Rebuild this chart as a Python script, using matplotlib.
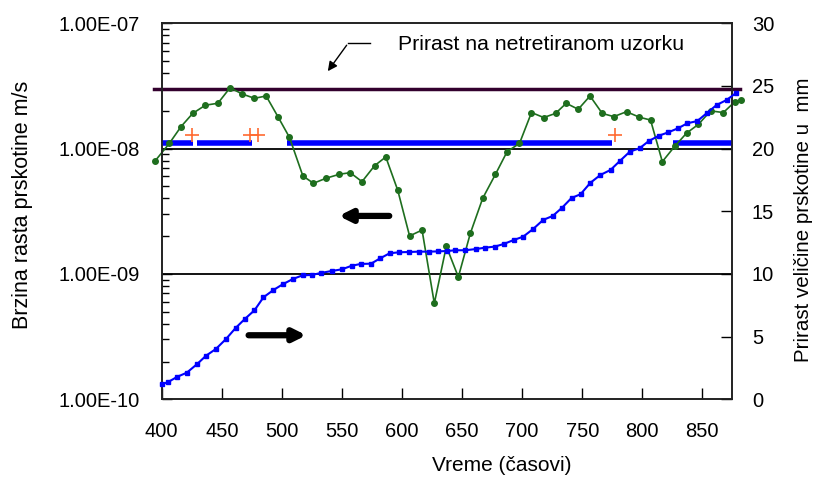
import matplotlib
matplotlib.use("Agg")
import matplotlib.pyplot as plt
from matplotlib.ticker import FixedLocator, NullFormatter, LogLocator

plt.rcParams['font.family'] = ['Liberation Sans', 'DejaVu Sans']

# ---- data ----
rate_x = [394.4, 406.3, 416.1, 425.8, 436.3, 446.7, 456.9, 466.9, 477.2, 486.9,
          496.7, 506.3, 517.5, 526.3, 536.7, 547.8, 556.9, 566.7, 577.2, 586.5,
          596.5, 606.3, 616.7, 626.9, 636.9, 646.9, 656.9, 667.2, 677.8, 687.5,
          697.8, 707.8, 718.0, 727.8, 736.7, 746.7, 756.5, 766.7, 776.3, 786.9,
          797.7, 806.9, 816.7, 826.9, 836.9, 846.7, 856.9, 867.5, 877.2, 881.9]
rate_y = [7.96e-9, 1.10e-8, 1.50e-8, 1.91e-8, 2.22e-8, 2.30e-8, 3.06e-8, 2.73e-8, 2.52e-8, 2.63e-8,
          1.80e-8, 1.23e-8, 6.05e-9, 5.29e-9, 5.80e-9, 6.24e-9, 6.43e-9, 5.45e-9, 7.31e-9, 8.58e-9,
          4.64e-9, 2.01e-9, 2.24e-9, 5.83e-10, 1.66e-9, 9.46e-10, 2.11e-9, 4.02e-9, 6.24e-9, 9.46e-9,
          1.10e-8, 1.94e-8, 1.77e-8, 1.91e-8, 2.30e-8, 2.06e-8, 2.63e-8, 1.91e-8, 1.80e-8, 1.97e-8,
          1.78e-8, 1.69e-8, 7.87e-9, 1.04e-8, 1.33e-8, 1.56e-8, 2.00e-8, 1.94e-8, 2.37e-8, 2.45e-8]

size_x = [400.0, 405.0, 413.0, 420.8, 429.2, 436.9, 445.0, 453.3, 461.7, 469.4,
          477.2, 484.7, 493.0, 500.8, 509.2, 517.2, 525.0, 532.5, 541.7, 550.0,
          558.3, 565.8, 574.2, 581.9, 589.7, 597.8, 605.5, 613.8, 622.2, 630.0,
          637.5, 644.4, 652.8, 661.7, 669.4, 677.2, 684.7, 693.0, 700.8, 709.2,
          717.5, 725.5, 733.3, 741.1, 748.6, 756.9, 765.2, 773.6, 781.3, 789.7,
          797.8, 805.5, 813.8, 821.7, 829.7, 837.5, 845.8, 853.6, 861.9, 870.2, 877.8]
size_y = [1.20, 1.36, 1.80, 2.12, 2.79, 3.48, 4.01, 4.79, 5.71, 6.43,
          7.10, 8.14, 8.72, 9.18, 9.60, 9.89, 9.92, 10.08, 10.24, 10.37,
          10.66, 10.80, 10.82, 11.25, 11.65, 11.73, 11.75, 11.78, 11.78, 11.80,
          11.83, 11.89, 11.89, 11.99, 12.10, 12.18, 12.39, 12.71, 12.97, 13.59,
          14.31, 14.63, 15.29, 16.06, 16.36, 17.28, 17.90, 18.30, 19.01, 19.76,
          20.03, 20.61, 21.03, 21.30, 21.62, 22.02, 22.20, 22.82, 23.48, 23.88, 24.42]

# constant-level indicator segments (start, end) at rate level
band_level = 1.11e-8
band_start = [400, 429, 504, 826]
band_end = [426, 475, 775, 875]

plus_x = [425, 473.6, 480.5, 777.7]
plus_y = [1.29e-8, 1.29e-8, 1.29e-8, 1.29e-8]

untreated_level = 3.0e-8
grid_levels = [1e-9, 1e-8]

xticks = [400, 450, 500, 550, 600, 650, 700, 750, 800, 850]
left_ticks = [1e-10, 1e-9, 1e-8, 1e-7]
left_labels = ['1.00E-10', '1.00E-09', '1.00E-08', '1.00E-07']
right_ticks = [0, 5, 10, 15, 20, 25, 30]

# ---- figure ----
fig = plt.figure(figsize=(8.14, 4.79), dpi=100)
ax = fig.add_axes([0.1987, 0.1664, 0.7010, 0.7850])
ax2 = ax.twinx()

ax.set_yscale('log')
ax.set_ylim(1e-10, 1e-7)
ax.set_xlim(400, 875)
ax2.set_ylim(0, 30)

for lv in grid_levels:
    ax.axhline(lv, color='black', lw=1.3, zorder=1)
ax.axhline(untreated_level, xmin=-0.0135, xmax=1.0135, color='#33002e', lw=2.5,
           clip_on=False, zorder=2)

for s, e in zip(band_start, band_end):
    ax.plot([s, e], [band_level, band_level], color='#0000ff', lw=4,
            solid_capstyle='butt', zorder=3)

ax.plot(plus_x, plus_y, linestyle='none', marker='+', markersize=10,
        mew=1.2, color='#ff6a30', zorder=4)

ax.plot(rate_x, rate_y, color='#1e6e1e', lw=1.2, marker='o', markersize=4,
        clip_on=False, zorder=5)

ax2.plot(size_x, size_y, color='#0000ff', lw=1.5, marker='s', markersize=2.8,
         clip_on=False, zorder=5)

# ticks
ax.set_xticks(xticks)
ax.tick_params(axis='x', direction='in', length=8, width=1, pad=16, labelsize=14.5)
ax.yaxis.set_major_locator(FixedLocator(left_ticks))
ax.set_yticklabels(left_labels)
ax.yaxis.set_minor_locator(LogLocator(base=10, subs=range(2, 10)))
ax.yaxis.set_minor_formatter(NullFormatter())
ax.tick_params(axis='y', which='major', direction='in', length=7, width=1, pad=16, labelsize=14.5)
ax.tick_params(axis='y', which='minor', direction='in', length=5, width=1)
ax2.set_yticks(right_ticks)
ax2.tick_params(axis='y', direction='in', length=8, width=1, pad=14, labelsize=14.5)

for a in (ax, ax2):
    for sp in a.spines.values():
        sp.set_linewidth(1.2)
        sp.set_color('#222222')

ax.set_xlabel('Vreme (časovi)', fontsize=15)
ax.xaxis.set_label_coords(0.596, -0.150)
ax.set_ylabel('Brzina rasta prskotine m/s', fontsize=15.5)
ax.yaxis.set_label_coords(-0.2255, 0.517)
ax2.set_ylabel('Prirast veličine prskotine u  mm', fontsize=14.8)
ax2.yaxis.set_label_coords(1.108, 0.477)

# annotations
ax2.text(597, 28.3, 'Prirast na netretiranom uzorku', fontsize=15.3,
         ha='left', va='center')
ax2.plot([573.6, 555.3], [28.43, 28.43], color='black', lw=1)
ax2.annotate('', xy=(536.9, 26.0), xytext=(555.3, 28.43),
             arrowprops=dict(arrowstyle='-|>', color='black', lw=1,
                             mutation_scale=14))
ax2.annotate('', xy=(545, 14.63), xytext=(591.7, 14.63),
             arrowprops=dict(arrowstyle='-|>', color='black', lw=4.5,
                             mutation_scale=18))
ax2.annotate('', xy=(522.7, 5.11), xytext=(470, 5.11),
             arrowprops=dict(arrowstyle='-|>', color='black', lw=4.5,
                             mutation_scale=18))

fig.savefig('out.png', dpi=100)
